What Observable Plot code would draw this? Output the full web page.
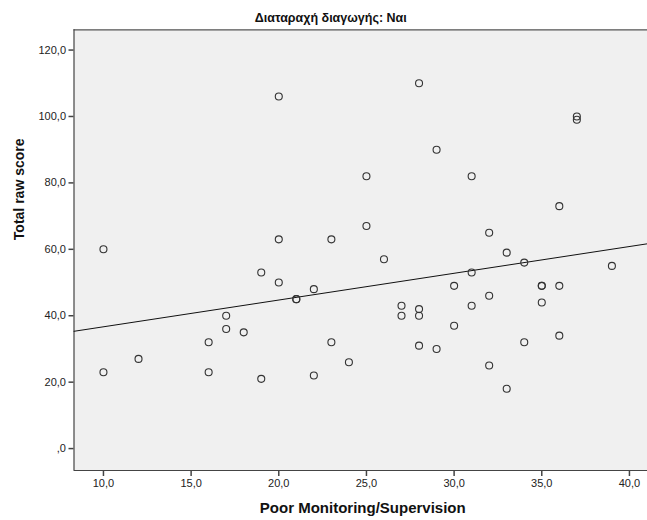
<!DOCTYPE html>
<html>
<head>
<meta charset="utf-8">
<script src="https://cdn.jsdelivr.net/npm/d3@7"></script>
<script src="https://cdn.jsdelivr.net/npm/@observablehq/plot@0.6"></script>
<style>
  html, body { margin: 0; padding: 0; background: #ffffff; }
  #chart svg { display: block; }
</style>
</head>
<body>
<div id="chart"></div>
<script>
// Data
const poorMonitoring = [10,10,12,16,16,17,17,18,19,19,20,20,20,21,21,22,22,23,23,24,25,25,26,27,27,28,28,28,28,29,29,30,30,31,31,31,32,32,32,33,33,34,34,35,35,35,36,36,36,37,37,39];
const totalRawScore  = [60,23,27,32,23,40,36,35,53,21,106,63,50,45,45,48,22,63,32,26,82,67,57,43,40,110,42,40,31,90,30,49,37,82,53,43,65,46,25,59,18,56,32,49,49,44,73,49,34,100,99,55];

const xTicks = [10, 15, 20, 25, 30, 35, 40];
const yTicks = [0, 20, 40, 60, 80, 100, 120];

const titleText = "Διαταραχή διαγωγής: Ναι";
const xLabel = "Poor Monitoring/Supervision";
const yLabel = "Total raw score";

const xDomain = [8.32, 41.03];
const yDomain = [-6.6, 126.1];

const points = poorMonitoring.map((x, i) => ({x, y: totalRawScore[i]}));

// Ordinary least squares fit line over the full x axis
const mx = d3.mean(poorMonitoring), my = d3.mean(totalRawScore);
const sxy = d3.sum(points, p => (p.x - mx) * (p.y - my));
const sxx = d3.sum(points, p => (p.x - mx) ** 2);
const slope = sxy / sxx, intercept = my - slope * mx;
const fit = xDomain.map(x => ({x, y: intercept + slope * x}));

const fmt = d => d === 0 ? ",0" : d.toFixed(1).replace(".", ",");
const font = "'Liberation Sans', Arial, sans-serif";

const chart = Plot.plot({
  width: 647,
  height: 520,
  marginLeft: 73.5,
  marginRight: 0,
  marginTop: 29.3,
  marginBottom: 50,
  style: {fontFamily: font, fontSize: "11px", color: "#222", background: "#ffffff", overflow: "visible"},
  x: {domain: xDomain},
  y: {domain: yDomain},
  marks: [
    Plot.frame({fill: "#f0f0f0", stroke: "none"}),
    Plot.ruleY([yDomain[1]], {stroke: "#555", strokeWidth: 1.2}),
    Plot.ruleY([yDomain[0]], {stroke: "#444", strokeWidth: 1.2}),
    Plot.ruleX([xDomain[0]], {stroke: "#444", strokeWidth: 1.2}),
    Plot.axisY({ticks: yTicks, tickFormat: fmt, tickSize: 5, tickPadding: 3, label: null, stroke: "#444", strokeWidth: 1.5, fill: "#222", fontSize: 11}),
    Plot.axisX({ticks: xTicks, tickFormat: fmt, tickSize: 6, tickPadding: 3, label: null, stroke: "#444", strokeWidth: 1.5, fill: "#222", fontSize: 11}),
    Plot.line(fit, {x: "x", y: "y", stroke: "#111", strokeWidth: 1}),
    Plot.dot(points, {x: "x", y: "y", r: 3.5, stroke: "#333", strokeWidth: 1.1, fill: "none"}),
    Plot.text([titleText], {frameAnchor: "top", dx: -30, dy: -17, text: d => d, fontWeight: "bold", fontSize: 12.5, fill: "#111"}),
    Plot.text([xLabel], {frameAnchor: "bottom", dx: 2, dy: 42, text: d => d, fontWeight: "bold", fontSize: 15, fill: "#111"}),
    Plot.text([yLabel], {frameAnchor: "left", dx: -54.5, dy: -10, rotate: -90, text: d => d, fontWeight: "bold", fontSize: 14, fill: "#111"})
  ]
});
document.getElementById("chart").appendChild(chart);
</script>
</body>
</html>
